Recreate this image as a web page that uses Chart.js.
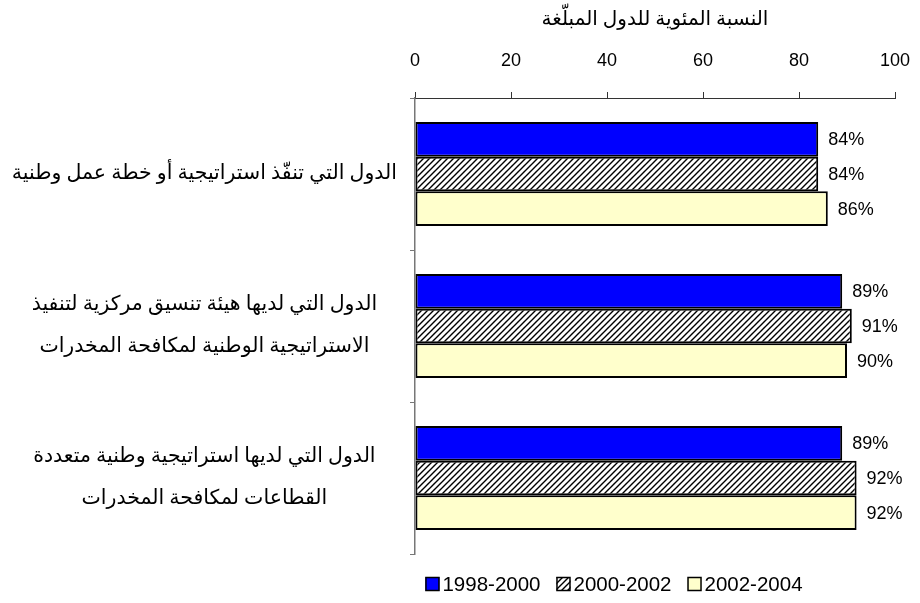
<!DOCTYPE html>
<html lang="ar">
<head>
<meta charset="utf-8">
<script src="https://cdn.jsdelivr.net/npm/chart.js@4/dist/chart.umd.min.js"></script>
<style>
  html, body { margin: 0; padding: 0; background: #ffffff; }
  #wrap { width: 920px; height: 603px; position: relative; }
</style>
</head>
<body>
<div id="wrap"><canvas id="chart" width="920" height="603"></canvas></div>
<script>
// Category labels (multi-line labels are arrays of lines)
const categories = [
  'الدول التي تنفّذ استراتيجية أو خطة عمل وطنية',
  ['الدول التي لديها هيئة تنسيق مركزية لتنفيذ', 'الاستراتيجية الوطنية لمكافحة المخدرات'],
  ['الدول التي لديها استراتيجية وطنية متعددة', 'القطاعات لمكافحة المخدرات']
];
const seriesNames = ['1998-2000', '2000-2002', '2002-2004'];
const values1998 = [84, 89, 89];
const values2000 = [84, 91, 92];
const values2002 = [86, 90, 92];
const axisTitle = 'النسبة المئوية للدول المبلّغة';

// Diagonal hatch fill for the middle period
function makeHatch() {
  const s = 6;
  const c = document.createElement('canvas');
  c.width = s; c.height = s;
  const g = c.getContext('2d');
  g.fillStyle = '#ffffff';
  g.fillRect(0, 0, s, s);
  g.strokeStyle = '#000000';
  g.lineWidth = 1.4;
  g.beginPath();
  g.moveTo(-1, s + 1); g.lineTo(s + 1, -1);
  g.moveTo(-1, 1); g.lineTo(1, -1);
  g.moveTo(s - 1, s + 1); g.lineTo(s + 1, s - 1);
  g.stroke();
  return g.createPattern(c, 'repeat');
}
const ctx = document.getElementById('chart').getContext('2d');
const hatch = makeHatch();
const fills = ['#0000ff', hatch, '#ffffcc'];

// Percent labels at the end of each bar
const valueLabels = {
  id: 'valueLabels',
  afterDatasetsDraw(chart) {
    const c = chart.ctx;
    c.save();
    c.font = '18px Arial, "Liberation Sans", sans-serif';
    c.fillStyle = '#000';
    c.textAlign = 'left';
    c.textBaseline = 'middle';
    chart.data.datasets.forEach((ds, i) => {
      chart.getDatasetMeta(i).data.forEach((bar, j) => {
        c.fillText(ds.data[j] + '%', bar.x + 10, bar.y + 1);
      });
    });
    c.restore();
  }
};

// Legend row under the plot
const bottomLegend = {
  id: 'bottomLegend',
  afterDraw(chart) {
    const c = chart.ctx;
    c.save();
    c.font = '20.5px Arial, "Liberation Sans", sans-serif';
    c.textBaseline = 'middle';
    c.textAlign = 'left';
    const box = 14, gapText = 3, gapItem = 16;
    const items = chart.data.datasets.map(d => ({ label: d.label, fill: d.backgroundColor }));
    let total = 0;
    items.forEach((it, i) => {
      it.w = box + gapText + c.measureText(it.label).width;
      total += it.w + (i ? gapItem : 0);
    });
    const cy = 584;
    let x = 614 - total / 2;
    items.forEach(it => {
      c.fillStyle = it.fill;
      c.fillRect(x, cy - box / 2, box, box);
      c.lineWidth = 1.5;
      c.strokeStyle = '#000';
      c.strokeRect(x + 0.5, cy - box / 2 + 0.5, box - 1, box - 1);
      c.fillStyle = '#000';
      c.fillText(it.label, x + box + gapText, cy + 1);
      x += it.w + gapItem;
    });
    c.restore();
  }
};

const barStyle = { borderColor: '#000', borderWidth: 2, borderSkipped: false,
                   categoryPercentage: 0.685, barPercentage: 1.0 };

new Chart(ctx, {
  type: 'bar',
  data: {
    labels: categories,
    datasets: [
      Object.assign({ label: seriesNames[0], data: values1998, backgroundColor: fills[0] }, barStyle),
      Object.assign({ label: seriesNames[1], data: values2000, backgroundColor: fills[1] }, barStyle),
      Object.assign({ label: seriesNames[2], data: values2002, backgroundColor: fills[2] }, barStyle)
    ]
  },
  options: {
    indexAxis: 'y',
    responsive: false,
    animation: false,
    layout: { padding: { left: 0, right: 25, top: 0, bottom: 49 } },
    plugins: {
      legend: { display: false },
      tooltip: { enabled: false }
    },
    scales: {
      x: {
        position: 'top',
        min: 0, max: 100,
        ticks: { stepSize: 20, color: '#000', padding: 20,
                 font: { family: 'Arial, "Liberation Sans", sans-serif', size: 18 } },
        grid: { drawOnChartArea: false, tickLength: 6, color: '#333', tickColor: '#333' },
        border: { color: '#333', width: 1 },
        title: { display: true, text: axisTitle, color: '#000', padding: { top: 8, bottom: 0 },
                 font: { family: '"Times New Roman", "DejaVu Sans", serif', size: 20 } },
        afterFit(scale) {
          scale.height = 98;
          scale.paddingLeft = 0;
          scale.paddingRight = 0;
        }
      },
      y: {
        ticks: { color: '#000', crossAlign: 'center', padding: 13,
                 font: { family: '"Times New Roman", "DejaVu Sans", serif', size: 20.5, lineHeight: 2.05 } },
        grid: { drawOnChartArea: false, offset: true, tickLength: 5, color: '#777', tickColor: '#777' },
        border: { color: '#777', width: 1.5 },
        afterFit(scale) { scale.width = 415; }
      }
    }
  },
  plugins: [valueLabels, bottomLegend]
});
</script>
</body>
</html>
